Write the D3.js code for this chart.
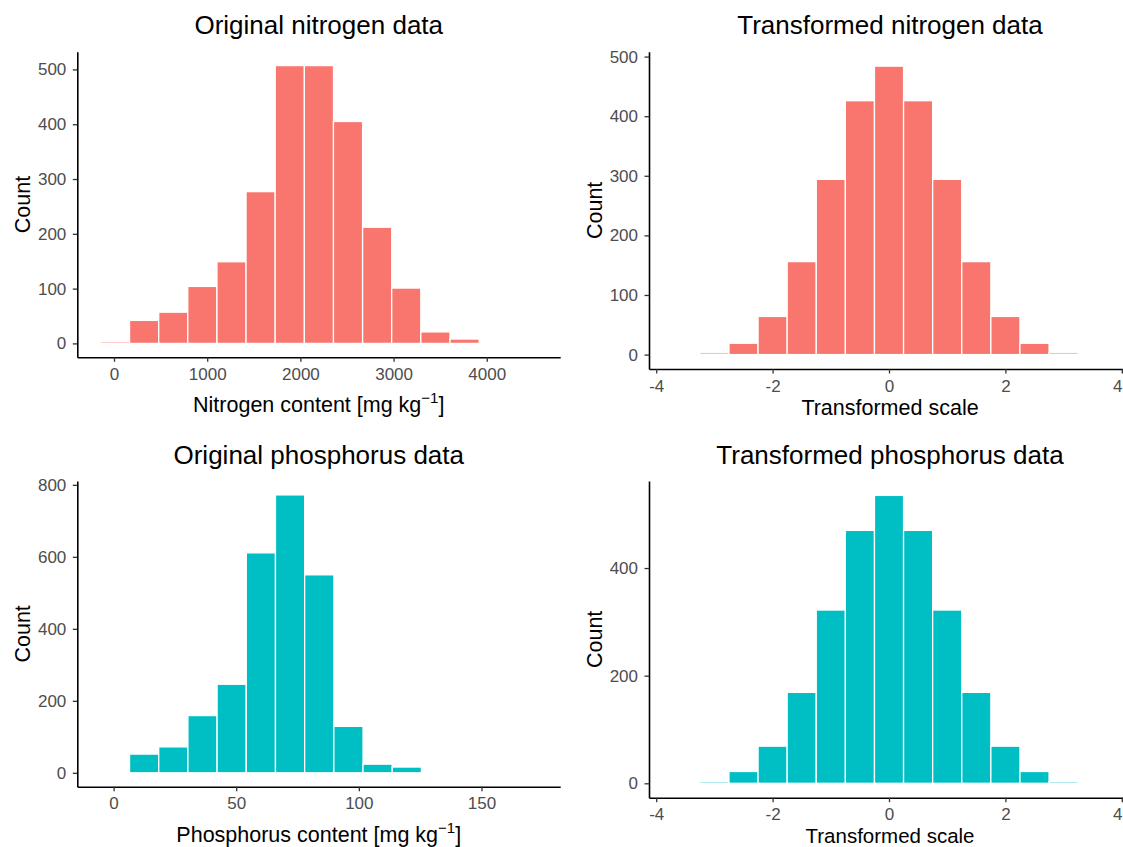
<!DOCTYPE html>
<html>
<head>
<meta charset="utf-8">
<script src="https://cdn.jsdelivr.net/npm/d3@7"></script>
<style>
  body { margin: 0; background: #fff; }
  text { font-family: "Liberation Sans", Arial, sans-serif; }
</style>
</head>
<body>
<script>
const RED = "#F8766D"
const TEAL = "#00BFC4"
const W = 1123, H = 847

// histogram bins (mid points) and counts
const nitroMids = [10, 323, 636, 948, 1261, 1573, 1886, 2199, 2511, 2824, 3136, 3449, 3762]
const nitroCounts = [3, 42, 57, 104, 149, 277, 507, 507, 405, 212, 101, 21, 8]
const nitroBinWidth = 312.6
const nitroXTicks = [0, 1000, 2000, 3000, 4000]
const nitroYTicks = [0, 100, 200, 300, 400, 500]

const transMids = [-3, -2.5, -2, -1.5, -1, -0.5, 0, 0.5, 1, 1.5, 2, 2.5, 3]
const transBinWidth = 0.5
const transXTicks = [-4, -2, 0, 2, 4]

const tNitroCounts = [3, 19, 64, 156, 294, 426, 484, 426, 294, 156, 64, 19, 3]
const tNitroYTicks = [0, 100, 200, 300, 400, 500]

const phosMids = [12.45, 24.35, 36.25, 48.15, 60.05, 71.95, 83.85, 95.75, 107.65, 119.55]
const phosCounts = [52, 72, 159, 246, 611, 772, 550, 129, 24, 16]
const phosBinWidth = 11.9
const phosXTicks = [0, 50, 100, 150]
const phosYTicks = [0, 200, 400, 600, 800]

const tPhosCounts = [3, 22, 69, 169, 322, 470, 535, 470, 322, 169, 69, 22, 3]
const tPhosYTicks = [0, 200, 400]

const panels = [
    { title: "Original nitrogen data", xlab: "Nitrogen content [mg kg", sup: true,
      mids: nitroMids, counts: nitroCounts, bw: nitroBinWidth, xlim: [-394, 4788],
      xticks: nitroXTicks, yticks: nitroYTicks, color: RED,
      box: { left: 77.3, right: 560.2, top: 51.7, bottom: 357.3 } },
    { title: "Transformed nitrogen data", xlab: "Transformed scale", sup: false,
      mids: transMids, counts: tNitroCounts, bw: transBinWidth, xlim: [-4.124, 4.158],
      xticks: transXTicks, yticks: tNitroYTicks, color: RED,
      box: { left: 649, right: 1131, top: 51.7, bottom: 369 } },
    { title: "Original phosphorus data", xlab: "Phosphorus content [mg kg", sup: true,
      mids: phosMids, counts: phosCounts, bw: phosBinWidth, xlim: [-14.8, 182.1],
      xticks: phosXTicks, yticks: phosYTicks, color: TEAL,
      box: { left: 77.3, right: 560.2, top: 481, bottom: 786.7 } },
    { title: "Transformed phosphorus data", xlab: "Transformed scale", sup: false,
      mids: transMids, counts: tPhosCounts, bw: transBinWidth, xlim: [-4.124, 4.158],
      xticks: transXTicks, yticks: tPhosYTicks, color: TEAL,
      box: { left: 649, right: 1131, top: 481, bottom: 797.7 } }
]

let svg = d3.select("body").append("svg").attr("width", W).attr("height", H)

panels.forEach(function (p) {
    let b = p.box
    let maxC = d3.max(p.counts)
    let x = d3.scaleLinear().domain(p.xlim).range([b.left, b.right])
    let y = d3.scaleLinear().domain([-0.05 * maxC, 1.05 * maxC]).range([b.bottom, b.top])

    let g = svg.append("g")

    g.selectAll("rect").data(p.mids).join("rect")
        .attr("x", (d) => x(d - p.bw / 2))
        .attr("width", (d) => x(d + p.bw / 2) - x(d - p.bw / 2))
        .attr("y", (d, i) => y(p.counts[i]))
        .attr("height", (d, i) => y(0) - y(p.counts[i]))
        .attr("fill", p.color)
        .attr("stroke", "white")
        .attr("stroke-width", 1.3)

    let xAxis = g.append("g").attr("transform", `translate(0,${b.bottom})`)
        .call(d3.axisBottom(x).tickValues(p.xticks).tickFormat((d) => String(d))
            .tickSize(4.5).tickSizeOuter(0).tickPadding(6))
    let yAxis = g.append("g").attr("transform", `translate(${b.left},0)`)
        .call(d3.axisLeft(y).tickValues(p.yticks).tickFormat((d) => String(d))
            .tickSize(4.5).tickSizeOuter(0).tickPadding(6.5))

    ;[xAxis, yAxis].forEach(function (a) {
        a.select(".domain").attr("stroke", "#000").attr("stroke-width", 1.6)
        a.selectAll(".tick line").attr("stroke", "#333").attr("stroke-width", 1.3)
        a.selectAll(".tick text").attr("fill", "#4D4D4D").attr("font-size", 17)
            .attr("font-family", "Liberation Sans, Arial, sans-serif")
    })

    // keep a tick label that sits on the page edge inside the page
    xAxis.selectAll(".tick").each(function (d) {
        let tx = x(d)
        if (tx + 5 > W) d3.select(this).select("text").attr("text-anchor", "end").attr("dx", W - 1 - tx + "px")
    })

    // title
    g.append("text")
        .attr("x", (b.left + b.right) / 2).attr("y", b.top - 17.5)
        .attr("text-anchor", "middle").attr("font-size", 26).attr("fill", "#000")
        .text(p.title)

    // y label
    g.append("text")
        .attr("transform", `translate(${b.left - 47.5},${(b.top + b.bottom) / 2}) rotate(-90)`)
        .attr("text-anchor", "middle").attr("font-size", 21.5).attr("fill", "#000")
        .text("Count")

    // x label (the last one sits on the bottom edge of the page)
    let ly = b.bottom + (p.sup ? 55 : 46)
    let atEdge = ly > H - 5
    let xl = g.append("text")
        .attr("x", (b.left + b.right) / 2).attr("y", atEdge ? H - 4.5 : ly)
        .attr("text-anchor", "middle").attr("font-size", atEdge ? 20.5 : 21.5).attr("fill", "#000")
    if (p.sup) {
        xl.append("tspan").text(p.xlab)
        xl.append("tspan").attr("font-size", 15).attr("dy", -9).text("\u22121")
        xl.append("tspan").attr("dy", 9).text("]")
    } else {
        xl.text(p.xlab)
    }
})
</script>
</body>
</html>
